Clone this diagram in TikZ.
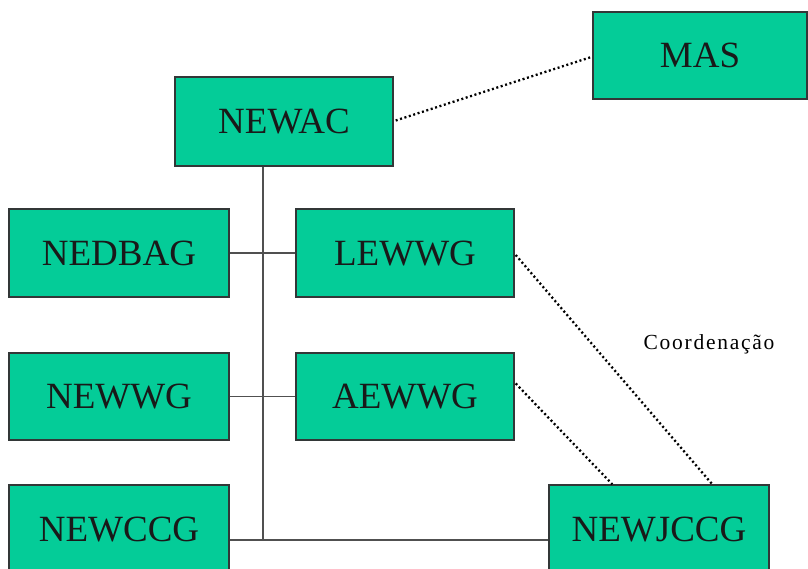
\documentclass[tikz,border=0pt]{standalone}
\usepackage{fontspec}
\setmainfont{Liberation Serif}
\usetikzlibrary{calc}
\definecolor{boxgreen}{RGB}{4,204,152}
\definecolor{boxedge}{RGB}{50,55,55}
\definecolor{linkgray}{RGB}{80,80,80}
\tikzset{
  unit/.style={draw=boxedge, fill=boxgreen, line width=1.4pt, inner sep=0pt,
    font=\fontsize{37}{40}\selectfont, text=black!90,
    text height=24.5pt, text depth=0pt},
  tree/.style={draw=linkgray, line width=1.5pt},
  coord/.style={draw=black, line width=2.3pt, dash pattern=on 2pt off 2.6pt}
}
\begin{document}
\begin{tikzpicture}[x=1pt, y=-1pt]
  \useasboundingbox (0,0) rectangle (808,569);
  \clip (0,0) rectangle (808,569);

  % units of the organisation
  \node[unit, minimum width=218pt, minimum height=89pt] (newac)   at (284,121.5) {NEWAC};
  \node[unit, minimum width=214pt, minimum height=87pt] (mas)     at (700,55.5)  {MAS};
  \node[unit, minimum width=220pt, minimum height=88pt] (nedbag)  at (119,253)   {NEDBAG};
  \node[unit, minimum width=218pt, minimum height=88pt] (lewwg)   at (405,253)   {LEWWG};
  \node[unit, minimum width=220pt, minimum height=87pt] (newwg)   at (119,396.5) {NEWWG};
  \node[unit, minimum width=218pt, minimum height=87pt] (aewwg)   at (405,396.5) {AEWWG};
  \node[unit, minimum width=220pt, minimum height=88pt] (newccg)  at (119,529)   {NEWCCG};
  \node[unit, minimum width=220pt, minimum height=88pt] (newjccg) at (659,529)   {NEWJCCG};

  % hierarchy lines
  \coordinate (trunkend) at (263,540);
  \draw[tree] (newac.south -| trunkend) -- (trunkend);
  \draw[tree] (nedbag.east) -- (lewwg.west);
  \draw[tree] (newwg.east) -- (aewwg.west);
  \draw[tree] (newccg.east |- trunkend) -- (newjccg.west |- trunkend);

  % coordination links
  \draw[coord] ($(newac.east)+(2,-1)$) -- ($(mas.west)+(-1,1.5)$);
  \draw[coord] ($(lewwg.east)+(1,2)$) -- ($(newjccg.north west)+(164,0)$);
  \draw[coord] ($(aewwg.east)+(1,-13)$) -- ($(newjccg.north west)+(64,0)$);

  \node[anchor=base, inner sep=0pt, font=\fontsize{21.5}{24}\selectfont\addfontfeature{LetterSpace=8}]
    (coordlabel) at (709,349) {Coordenação};
\end{tikzpicture}
\end{document}
